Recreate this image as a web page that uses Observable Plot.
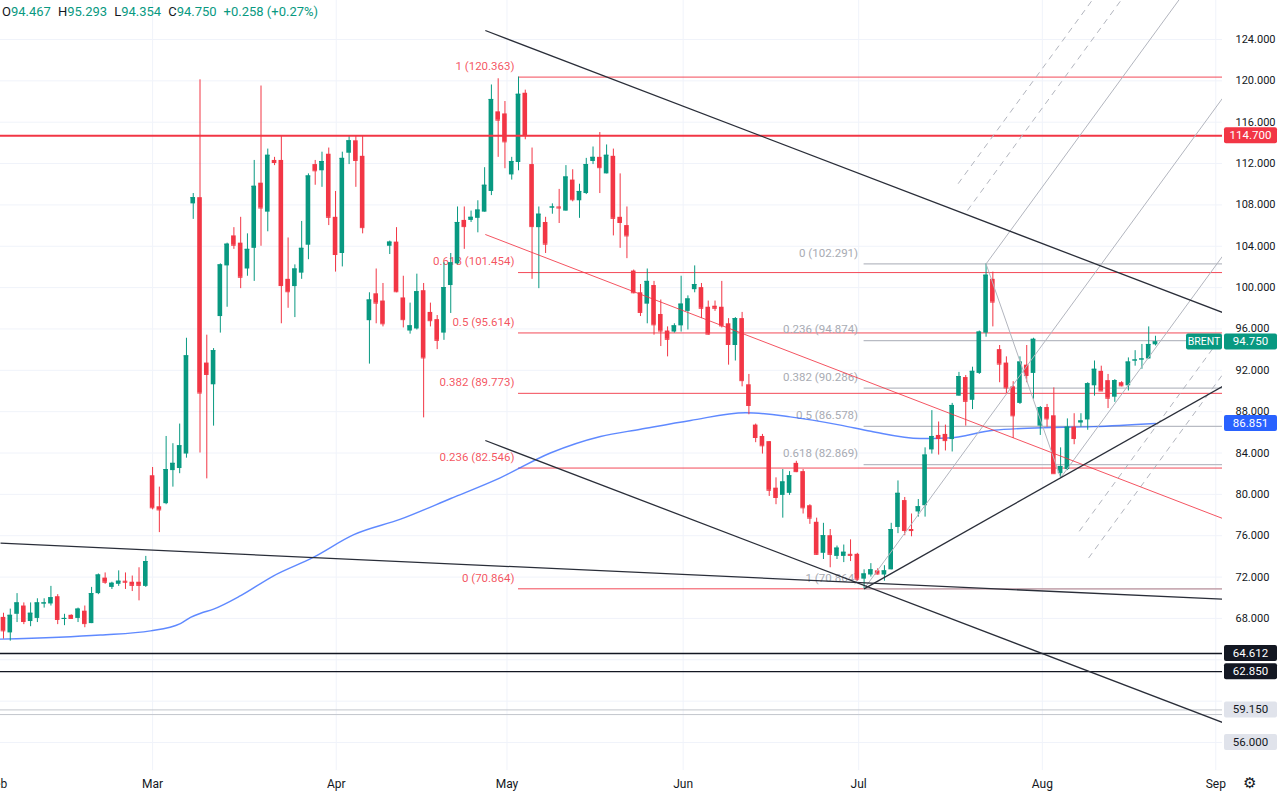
<!DOCTYPE html>
<html><head><meta charset="utf-8">
<script src="https://cdn.jsdelivr.net/npm/d3@7"></script>
<script src="https://cdn.jsdelivr.net/npm/@observablehq/plot@0.6"></script>
<style>
html,body{margin:0;padding:0;background:#fff;overflow:hidden;}
#wrap{position:relative;width:1280px;height:796px;}
#legend{position:absolute;left:2px;top:4px;font:13px Roboto,'Liberation Sans',sans-serif;color:#131722;white-space:nowrap;}
#legend .v{color:#089981;margin-right:7px;}
</style></head><body><div id="wrap"><div id="legend"></div></div>
<script>
// ---- candle data (bar index 0..170, daily) ----
const open = [68.1,66.6,68.4,69.2,67.7,68.0,69.4,69.4,70.1,67.9,68.3,68.0,68.7,67.5,70.4,71.9,71.0,71.3,71.6,71.5,71.5,71.1,
81.8,78.8,79.1,82.3,82.5,83.9,108.1,108.7,92.7,90.6,97.2,102.1,105.0,104.3,101.8,103.8,110.1,107.3,112.3,112.3,100.8,100.1,101.4,104.1,111.9,111.3,112.9,106.8,
103.3,113.0,114.2,112.7,96.8,99.4,98.7,104.0,104.4,99.0,95.8,96.0,99.7,97.6,96.9,95.6,100.2,102.3,106.5,106.5,106.7,107.3,109.3,117.0,116.8,110.9,112.1,118.8,111.9,105.8,
106.3,107.7,107.8,107.4,110.4,108.4,109.1,112.2,112.6,111.0,112.7,106.8,106.0,101.6,99.5,98.4,100.2,97.4,95.8,95.7,
96.3,97.7,99.8,100.0,98.1,98.2,98.1,96.5,94.4,97.0,90.6,86.7,85.6,85.1,80.6,79.9,80.1,83.0,82.2,78.9,
77.3,74.3,76.0,74.0,74.0,74.2,74.2,71.8,72.2,72.6,72.2,72.7,76.8,79.4,76.6,78.3,78.9,84.3,85.7,85.8,
85.3,89.5,91.3,89.1,91.7,95.6,100.8,94.0,92.7,90.4,88.8,92.5,91.7,86.6,88.4,87.6,82.0,82.4,86.5,86.9,
87.2,90.5,91.9,91.0,89.4,90.8,90.5,92.9,93.0,93.1,94.467];
const high = [68.5,68.9,70.4,69.5,69.5,69.9,69.9,71.1,70.3,68.4,68.35,69.0,69.2,71.0,72.3,72.4,71.5,72.6,72.4,72.1,72.9,74.0,
82.6,80.7,85.6,84.9,86.8,95.1,109.1,120.1,95.4,94.1,102.3,104.3,105.8,106.8,105.2,112.3,119.5,113.4,112.6,114.7,104.8,102.2,106.4,111.0,112.3,113.1,113.5,109.3,
113.1,114.7,114.7,114.7,99.5,101.8,100.4,104.5,105.8,101.1,98.5,101.3,100.4,98.5,97.3,102.4,103.3,107.8,107.8,107.4,108.4,111.6,119.6,120.2,118.0,112.6,120.363,119.1,113.5,107.8,
106.8,108.1,109.5,111.8,111.4,110.0,112.5,113.6,115.0,113.8,113.4,111.0,107.8,101.7,100.3,101.8,100.6,98.8,96.2,96.5,
101.1,99.2,102.1,100.4,98.7,98.7,100.6,97.0,97.1,97.6,91.6,86.8,85.8,85.1,81.6,82.4,82.2,83.2,82.4,79.0,
77.7,77.2,76.6,75.0,75.1,75.6,74.3,72.7,73.3,72.8,73.1,77.2,81.3,79.7,78.1,79.5,84.5,88.1,87.0,86.7,
88.8,91.8,91.5,92.3,95.8,102.291,101.5,94.4,93.3,90.9,93.3,94.4,95.1,88.5,88.7,90.3,84.5,87.3,87.8,87.8,
90.8,92.9,92.4,91.6,91.1,90.9,93.2,93.9,94.5,96.2,95.293];
const low = [66.0,65.8,67.6,67.4,67.2,67.6,69.0,69.2,67.4,67.3,67.95,67.6,67.1,67.5,70.3,71.3,70.8,71.1,70.8,70.6,69.7,71.0,
78.5,76.3,79.0,80.7,82.0,83.5,106.6,84.0,81.5,86.6,95.6,98.1,103.7,99.9,101.1,100.6,104.0,105.4,111.8,96.5,98.0,97.1,100.8,102.7,109.9,109.7,106.0,101.5,
102.0,111.9,109.7,105.2,92.6,96.5,96.2,103.2,99.5,96.1,95.5,95.9,87.4,96.2,94.0,94.9,97.5,102.2,103.7,106.3,105.3,107.3,108.9,112.6,111.5,110.4,111.3,114.3,100.8,99.9,
103.3,107.1,106.2,107.4,108.3,106.7,109.0,111.9,109.1,111.0,105.0,103.8,102.8,99.4,97.2,96.5,95.4,94.3,93.3,95.6,
95.7,95.9,99.5,97.0,95.4,97.7,96.1,92.5,92.9,90.4,87.7,85.0,83.9,79.8,79.0,77.7,79.9,82.1,78.1,77.1,
74.1,73.7,72.9,73.7,73.4,73.5,71.6,70.864,72.0,72.2,71.6,72.7,76.2,76.0,75.9,77.8,77.8,83.9,83.8,84.2,
84.1,89.5,86.6,88.2,91.6,95.2,96.2,90.8,89.7,85.4,88.7,90.8,89.2,85.7,86.5,82.0,81.6,82.3,84.8,86.5,
86.2,89.5,90.0,88.3,88.9,90.4,90.0,92.4,92.1,93.1,94.354];
const close = [66.8,68.3,69.5,67.7,68.5,69.5,69.5,70.0,67.9,68.0,68.0,68.9,67.5,70.4,72.2,71.5,71.4,71.6,71.5,71.2,71.2,73.5,
78.7,78.5,82.4,83.0,84.7,93.4,108.7,89.8,91.6,93.9,102.2,104.2,104.1,101.0,103.7,109.8,107.7,112.8,112.1,100.2,99.6,101.8,103.8,110.8,111.3,112.2,106.8,103.2,
112.5,114.2,112.3,105.8,98.8,98.5,96.5,104.4,99.6,96.9,96.3,99.6,93.2,96.8,94.9,100.0,102.4,106.3,105.9,106.8,107.5,109.9,118.2,116.2,114.1,112.2,118.7,114.7,105.9,107.1,
104.2,107.8,107.7,110.7,108.5,109.3,111.9,112.6,111.6,112.8,106.7,106.3,105.0,99.5,97.6,100.6,96.4,95.8,95.0,96.3,
98.4,98.9,100.3,98.0,95.5,98.0,96.3,94.5,97.0,91.0,88.6,85.5,84.7,80.4,79.7,81.2,81.8,82.2,78.7,77.7,
74.2,76.0,74.2,74.8,74.4,74.1,71.8,72.3,72.7,72.3,72.6,76.6,80.1,76.5,76.5,78.8,83.8,85.6,85.4,85.2,
88.6,91.4,89.0,91.9,95.7,101.2,98.6,92.6,90.3,87.6,92.8,91.5,95.0,88.4,87.3,82.0,82.7,86.5,85.4,87.1,
90.7,92.1,90.0,89.3,91.0,90.5,92.8,93.0,93.1,94.5,94.75];

// 200-bar moving average, read at sample bars
const maIdx = [-0.44,14.3,21.7,26.1,27.6,29.1,31.0,35.0,39.8,45.7,51.7,58.6,66.0,73.3,80.7,88.1,94.0,101.4,109.5,116.1,123.5,128.0,135.3,139.3,146.1,151.1,160.9,170];
const maVal = [66.0,66.4,66.8,67.5,68.1,68.5,68.9,70.2,72.1,73.9,76.1,77.6,79.6,81.6,84.0,85.6,86.3,87.15,87.9,87.5,86.7,86.1,85.4,85.45,86.2,86.4,86.55,86.851];

// axis ticks
const monthLabels = ["Feb","Mar","Apr","May","Jun","Jul","Aug","Sep"];
const monthIdx = [-0.9,22.0,49.1,74.3,100.3,126.2,153.3,178.9];
const priceTicks = d3.range(56, 125, 4);

// drawings
const redLevel = [114.7];
const blackLevels = [64.612, 62.85];
const grayLevels = [59.15, 58.7];
const redFibRatios = [1, 0.618, 0.5, 0.382, 0.236, 0];
const redFibPrices = [120.363, 101.454, 95.614, 89.773, 82.546, 70.864];
const redFibStart = 76;
const grayFibRatios = [0, 0.236, 0.382, 0.5, 0.618, 1];
const grayFibPrices = [102.291, 94.874, 90.286, 86.578, 82.869, 70.864];
const grayFibStart = 127;
const blackTrends = [
  {i1: 71.1, p1: 124.87, i2: 179.9, p2: 97.59},
  {i1: 71.1, p1: 85.21, i2: 179.9, p2: 57.93},
  {i1: -0.44, p1: 75.28, i2: 179.9, p2: 69.86},
  {i1: 127, p1: 70.864, i2: 179.9, p2: 90.45}
];
const redTrends = [{i1: 71.1, p1: 105.14, i2: 179.9, p2: 77.67}];
const forkIdx = [127, 145, 156];
const forkPrice = [70.864, 102.291, 81.6];
const forkSolidLevels = [1, -1];
const forkDashedLevels = [1.5, 1.75, -1.5, -1.75];
const tagPrices = [114.7, 94.75, 86.851, 64.612, 62.85, 59.15, 56.0];
const tagBg = ["#f23645","#089981","#2962ff","#131722","#131722","#e0e3eb","#e0e3eb"];
const tagFg = ["#fff","#fff","#fff","#fff","#fff","#131722","#131722"];

// ---- build ----
const X0 = -0.4427, X1 = 179.89, Y0 = 53.29, Y1 = 127.772;
const up = "#089981", down = "#f23645";
const candles = open.map((o, i) => ({i, open: o, high: high[i], low: low[i], close: close[i]}));
const colorOf = d => d.close >= d.open ? up : down;
const ma = maIdx.map((i, k) => ({i, p: maVal[k]}));
const months = monthLabels.map((label, k) => ({label, i: monthIdx[k]}));
const redFib = redFibRatios.map((r, k) => ({r, p: redFibPrices[k]}));
const grayFib = grayFibRatios.map((r, k) => ({r, p: grayFibPrices[k]}));
// axis labels that sit under a price tag are hidden (as on the reference)
const axisLabelTicks = priceTicks.filter(t => !tagPrices.some(p => Math.abs(p - t) < 1));

const P1 = {i: forkIdx[0], p: forkPrice[0]}, P2 = {i: forkIdx[1], p: forkPrice[1]}, P3 = {i: forkIdx[2], p: forkPrice[2]};
const M = {i: (P2.i + P3.i) / 2, p: (P2.p + P3.p) / 2};
const slope = (M.p - P1.p) / (M.i - P1.i);
const forkLine = k => {
  const i1 = M.i + k * (P2.i - M.i), p1 = M.p + k * (P2.p - M.p);
  return {i1, p1, i2: X1, p2: p1 + (X1 - i1) * slope};
};
const forkSolid = [{i1: P1.i, p1: P1.p, i2: X1, p2: P1.p + (X1 - P1.i) * slope}, {i1: P2.i, p1: P2.p, i2: P3.i, p2: P3.p}, ...forkSolidLevels.map(forkLine)];
const forkDashed = forkDashedLevels.map(forkLine);

const linkOpts = {x1: "i1", y1: "p1", x2: "i2", y2: "p2", clip: true};

const chart = Plot.plot({
  width: 1280, height: 796,
  marginLeft: 0, marginRight: 58, marginTop: 0, marginBottom: 26,
  x: {domain: [X0, X1], axis: null},
  y: {domain: [Y0, Y1], axis: null},
  color: {type: "identity"},
  style: {fontFamily: "Roboto, 'Liberation Sans', sans-serif", fontSize: "11px", background: "#fff", color: "#131722", overflow: "visible"},
  marks: [
    Plot.ruleY(priceTicks, {stroke: "#f0f3fa", strokeWidth: 1}),
    Plot.ruleX(months.slice(1), {x: "i", stroke: "#f0f3fa", strokeWidth: 1}),
    // fib retracements
    Plot.ruleY(redFib, {y: "p", x1: redFibStart, x2: X1, stroke: "#f23645", strokeWidth: 1, strokeOpacity: 0.9}),
    Plot.text(redFib, {x: redFibStart, y: "p", text: d => `${d.r} (${d.p.toFixed(3)})`, textAnchor: "end", dx: -4, dy: -11, fill: "#f23645", fillOpacity: 0.85, fontSize: 11.5}),
    Plot.ruleY(grayFib, {y: "p", x1: grayFibStart, x2: X1, stroke: "#b8bbc3", strokeWidth: 1.3}),
    Plot.text(grayFib, {x: grayFibStart, y: "p", text: d => `${d.r} (${d.p.toFixed(3)})`, textAnchor: "end", dx: -6, dy: -11, fill: "#a8abb3", fontSize: 11.5}),
    // horizontal levels
    Plot.ruleY(grayLevels, {x1: X0, x2: X1, stroke: "#c3c6cc", strokeWidth: 1}),
    Plot.ruleY(blackLevels, {x1: X0, x2: X1, stroke: "#131722", strokeWidth: 1.4}),
    // moving average
    Plot.line(ma, {x: "i", y: "p", curve: "monotone-x", stroke: "#2962ff", strokeOpacity: 0.75, strokeWidth: 1.4}),
    // candles
    Plot.ruleX(candles, {x: "i", y1: "low", y2: "high", stroke: colorOf, strokeWidth: 1}),
    Plot.rect(candles, {x1: d => d.i - 0.34, x2: d => d.i + 0.34, y1: "open", y2: "close", fill: colorOf}),
    Plot.ruleY(candles, {x1: d => d.i - 0.34, x2: d => d.i + 0.34, y: "close", stroke: colorOf, strokeWidth: 1}),
    // lines on top
    Plot.ruleY(redLevel, {x1: X0, x2: X1, stroke: "#f23645", strokeWidth: 2}),
    Plot.link(forkSolid, {...linkOpts, stroke: "#b2b5be", strokeWidth: 1}),
    Plot.link(forkDashed, {...linkOpts, stroke: "#b2b5be", strokeWidth: 1, strokeDasharray: "6,5"}),
    Plot.link(redTrends, {...linkOpts, stroke: "#f23645", strokeOpacity: 0.85, strokeWidth: 1}),
    Plot.link(blackTrends, {...linkOpts, stroke: "#2a2e39", strokeWidth: 1.3}),
    // axes
    Plot.axisY(axisLabelTicks, {anchor: "right", tickSize: 0, tickPadding: 13, tickFormat: d => d.toFixed(3), fontSize: 11, fill: "#131722"}),
    Plot.text(months, {x: "i", text: "label", frameAnchor: "bottom", dy: 17, fontSize: 12, fill: "#131722"}),
    Plot.text(["\u2699"], {frameAnchor: "bottom-right", dx: 33, dy: 17, text: d => d, fontSize: 15, fill: "#131722"})
  ]
});

// price tags on the right scale
const ys = chart.scale("y");
const g = d3.select(chart).append("g").attr("font-family", "Roboto, 'Liberation Sans', sans-serif");
tagPrices.forEach((p, k) => {
  const y = ys.apply(p);
  g.append("rect").attr("x", 1224).attr("y", y - 8).attr("width", 53).attr("height", 16).attr("rx", 2).attr("fill", tagBg[k]);
  g.append("text").attr("x", 1250.5).attr("y", y).attr("dy", "0.35em").attr("text-anchor", "middle").attr("font-size", 11.5).attr("fill", tagFg[k]).text(p.toFixed(3));
});
{
  const y = ys.apply(close[close.length - 1]);
  g.append("rect").attr("x", 1186).attr("y", y - 8).attr("width", 36).attr("height", 16).attr("rx", 2).attr("fill", up);
  g.append("text").attr("x", 1204).attr("y", y).attr("dy", "0.35em").attr("text-anchor", "middle").attr("font-size", 10.5).attr("fill", "#fff").text("BRENT");
}
document.getElementById("wrap").prepend(chart);

// OHLC legend
const last = candles[candles.length - 1];
document.getElementById("legend").innerHTML =
  `O<span class="v">${last.open.toFixed(3)}</span>H<span class="v">${last.high.toFixed(3)}</span>L<span class="v">${last.low.toFixed(3)}</span>C<span class="v">${last.close.toFixed(3)}</span><span class="v">+0.258 (+0.27%)</span>`;
</script></body></html>
